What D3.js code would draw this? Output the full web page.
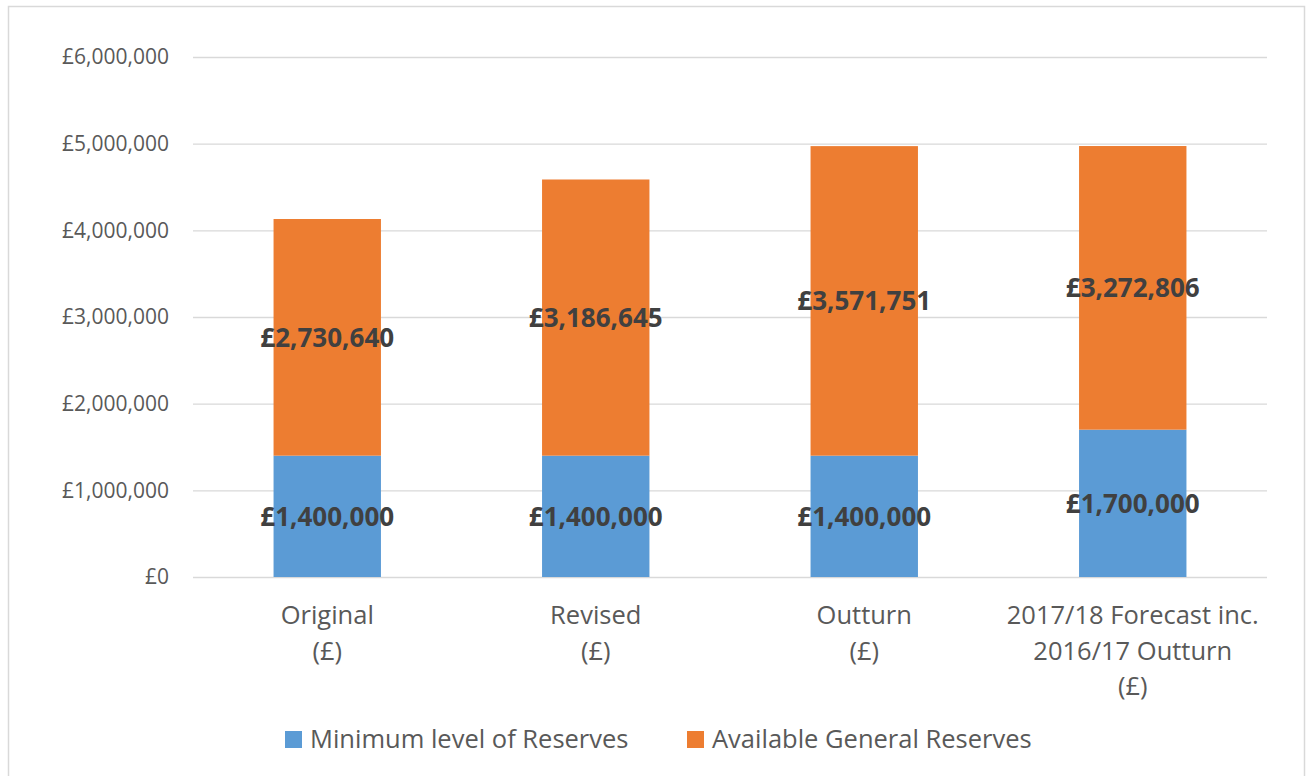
<!DOCTYPE html>
<html><head><meta charset="utf-8">
<script src="https://cdn.jsdelivr.net/npm/d3@7"></script>
<style>body{margin:0;background:#fff;} svg{display:block;font-family:"Open Sans",sans-serif;}</style>
</head><body>
<svg id="c" width="1309" height="776"></svg>
<script>
const categories = [["Original","(£)"],["Revised","(£)"],["Outturn","(£)"],["2017/18 Forecast inc.","2016/17 Outturn","(£)"]];
const minimumReserves = [1400000,1400000,1400000,1700000];
const availableReserves = [2730640,3186645,3571751,3272806];
const yTicks = [0,1000000,2000000,3000000,4000000,5000000,6000000];
const seriesNames = ["Minimum level of Reserves","Available General Reserves"];
const colors = ["#5b9bd5","#ed7d31"];

(function(){
const svg = d3.select("#c");
svg.append("rect").attr("x",8.5).attr("y",6.5).attr("width",1296).attr("height",800)
  .attr("fill","#fff").attr("stroke","#d9d9d9").attr("stroke-width",1.5);

const pl=193,pr=1267,pt=57,pb=577;
const x = d3.scaleBand().domain(d3.range(4)).range([pl,pr]).paddingInner(0.6).paddingOuter(0.3);
const y = d3.scaleLinear().domain([0,6000000]).range([pb,pt]);
const fmt = v => "£" + d3.format(",")(v);

const yAxis = d3.axisLeft(y).tickValues(yTicks).tickSize(-(pr-pl)).tickFormat(fmt);
const g = svg.append("g").attr("transform",`translate(${pl},0)`).call(yAxis);
g.select(".domain").remove();
g.selectAll(".tick line").attr("stroke","#d9d9d9").attr("stroke-width",1.3);
g.selectAll(".tick text").attr("x",-24).attr("fill","#595959").style("font-size","21px").style("font-family","'Open Sans'");

const stackData = categories.map((c,i)=>({i, a:minimumReserves[i], b:availableReserves[i]}));
const stack = d3.stack().keys(["a","b"])(stackData);
stack.forEach((s,k)=>{
  svg.append("g").selectAll("rect").data(s).join("rect")
    .attr("x",(d,i)=>x(i)).attr("width",x.bandwidth())
    .attr("y",d=>y(d[1])).attr("height",d=>y(d[0])-y(d[1]))
    .attr("fill",colors[k]);
});
stack.forEach((s,k)=>{
  svg.append("g").selectAll("text").data(s).join("text")
    .attr("x",(d,i)=>x(i)+x.bandwidth()/2)
    .attr("y",d=>y((d[0]+d[1])/2))
    .attr("dy","0.36em").attr("text-anchor","middle")
    .attr("fill","#404040").style("font-size","26px").style("font-weight","bold")
    .text((d,i)=>fmt(k===0?minimumReserves[i]:availableReserves[i]));
});

const xl = svg.append("g");
categories.forEach((lines,i)=>{
  const cx = x(i)+x.bandwidth()/2;
  const t = xl.append("text").attr("x",cx).attr("y",624)
    .attr("text-anchor","middle").attr("fill","#595959").style("font-size","25.5px");
  lines.forEach((ln,j)=>t.append("tspan").attr("x",cx).attr("dy",j?35.5:0).text(ln));
});

const legendX=[285,687];
seriesNames.forEach((n,k)=>{
  svg.append("rect").attr("x",legendX[k]).attr("y",731).attr("width",17).attr("height",17).attr("fill",colors[k]);
  svg.append("text").attr("x",legendX[k]+25).attr("y",748).attr("fill","#595959").style("font-size","25.5px").text(n);
});
})();
</script>
</body></html>
